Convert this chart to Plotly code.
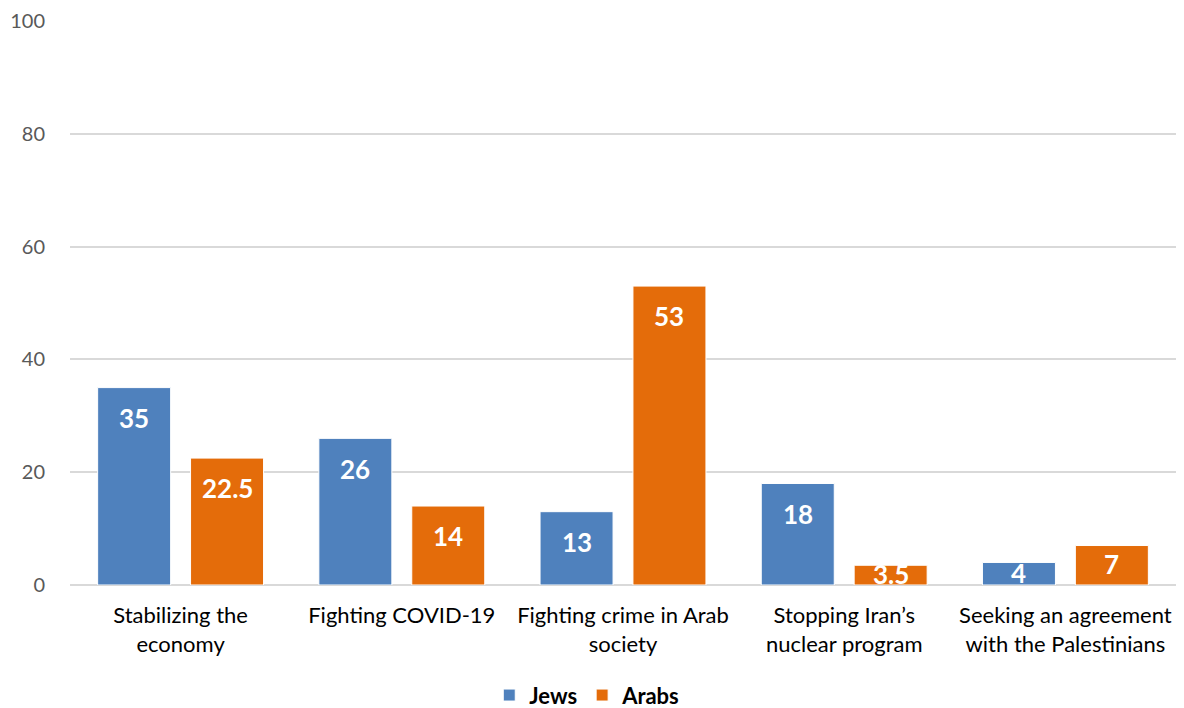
import plotly.graph_objects as go

# Survey: top priority for the government, by population group (%)
categories = [
    "Stabilizing the<br>economy",
    "Fighting COVID-19",
    "Fighting crime in Arab<br>society",
    "Stopping Iran’s<br>nuclear program",
    "Seeking an agreement<br>with the Palestinians",
]
jews = [35, 26, 13, 18, 4]
arabs = [22.5, 14, 53, 3.5, 7]

y_ticks = [0, 20, 40, 60, 80, 100]

BLUE = "#4F81BD"
ORANGE = "#E46C0A"
FONT = "Lato"

# bar geometry in category units: outer edges flush with the group, gap between
GROUP_W = 0.75
BAR_W = 0.33
offsets = [-GROUP_W / 2, GROUP_W / 2 - BAR_W]

n = len(categories)
xs = list(range(n))

fig = go.Figure()
for name, vals, color, off in [("Jews", jews, BLUE, offsets[0]),
                               ("Arabs", arabs, ORANGE, offsets[1])]:
    fig.add_trace(go.Bar(
        name=name, x=xs, y=vals, width=BAR_W, offset=off,
        marker=dict(color=color, line=dict(color="white", width=1)),
    ))

# value labels: inside near the bar top, centred in short bars
PX_PER_UNIT = 567 / 100.0
inset = 31.5 / PX_PER_UNIT
annotations = []
for vals, off in [(jews, offsets[0]), (arabs, offsets[1])]:
    for i, v in enumerate(vals):
        annotations.append(dict(
            x=i + off + BAR_W / 2, y=max(v - inset, v / 2),
            xref="x", yref="y", text=f"{v:g}", showarrow=False,
            yanchor="middle", xanchor="center", yshift=1,
            font=dict(family=FONT, size=26, color="white", weight="bold"),
        ))

fig.update_layout(
    width=1184, height=708,
    margin=dict(l=70, r=8, t=18, b=123),
    paper_bgcolor="white", plot_bgcolor="white",
    barmode="overlay",
    font=dict(family=FONT),
    showlegend=True,
    legend=dict(
        orientation="h", xref="container", yref="container",
        x=0.496, xanchor="center", y=0.018, yanchor="middle",
        font=dict(family=FONT, size=22, color="#000000", weight="bold"),
        itemclick=False, traceorder="normal",
    ),
    annotations=annotations,
)
fig.update_xaxes(
    tickmode="array", tickvals=xs, ticktext=categories,
    showgrid=False, showline=False, zeroline=False, ticks="",
    tickfont=dict(family=FONT, size=22, color="#000000"),
    ticklabelstandoff=15,
    range=[-0.5, n - 0.5],
)
fig.update_yaxes(
    range=[0, 100], tickvals=y_ticks,
    showgrid=True, gridcolor="#D9D9D9", gridwidth=1.5,
    zeroline=True, zerolinecolor="#D9D9D9", zerolinewidth=1.5,
    showline=False, ticks="",
    tickfont=dict(family=FONT, size=20, color="#595959"),
    ticklabelstandoff=24,
)

fig.write_html("out.html")
